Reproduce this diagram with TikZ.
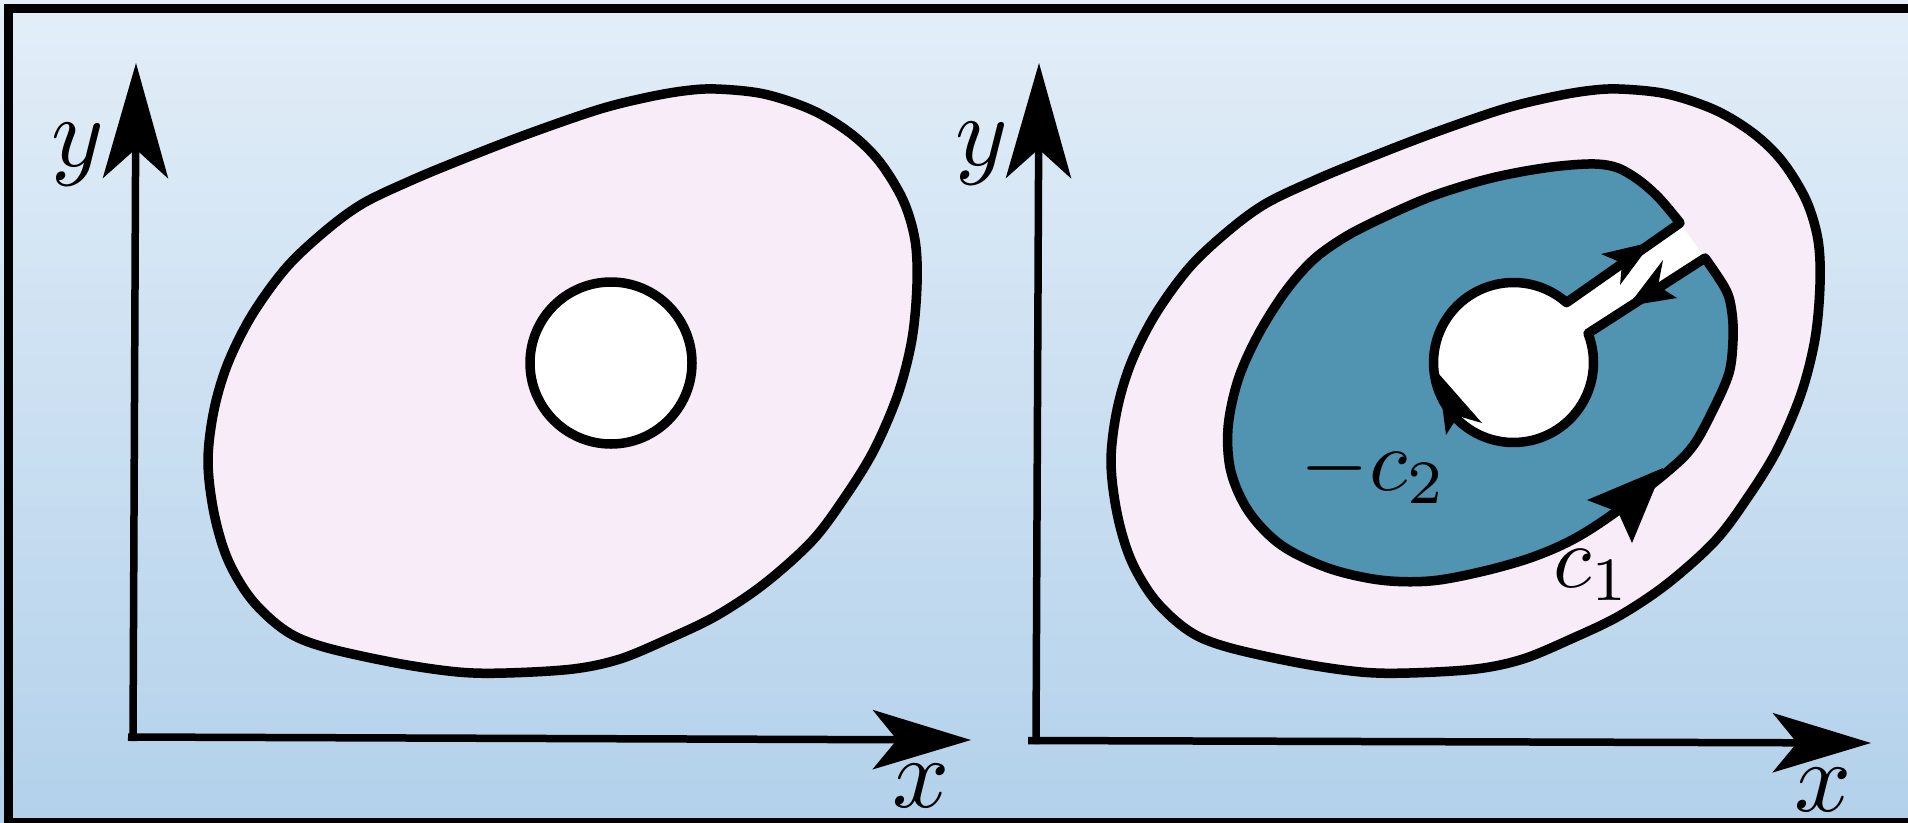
\documentclass[tikz,border=0pt]{standalone}
\usetikzlibrary{arrows.meta}
\definecolor{bgtop}{RGB}{227,238,248}
\definecolor{bgbot}{RGB}{179,209,235}
\definecolor{pinkfill}{RGB}{248,236,249}
\definecolor{tealfill}{RGB}{81,148,178}
\begin{document}
\begin{tikzpicture}[x=1pt,y=-1pt,
  outline/.style={line width=9.5pt, line join=round},
  axisline/.style={line width=7.5pt},
  yarrow/.style={-{Stealth[length=115pt,width=65pt,inset=29pt]}},
  xarrow/.style={-{Stealth[length=98pt,width=59pt,inset=24pt]}},
  tipfill/.style={fill=black},
  lbl/.style={inner sep=0pt, font=\fontsize{10}{12}\selectfont, scale=10},
  clbl/.style={inner sep=0pt, font=\fontsize{10}{12}\selectfont, scale=8.8},
]
\useasboundingbox (0,0) rectangle (1908,822);
\shade[top color=bgtop, bottom color=bgbot] (0,0) rectangle (1908,822);
\draw[line width=9pt] (8,822.8) -- (8,8) -- (1930,8) -- (1930,822.8) -- cycle;

% outer blobs
\foreach \dx in {0,903} {
  \filldraw[outline, fill=pinkfill, xshift=\dx pt] plot[smooth cycle, tension=0.55] coordinates {
    (716,89) (764,94) (812,110) (850,133) (879,161) (903,200) (915,240) (917,284)
    (912,339) (898,394) (874,450) (845,497) (812,541) (764,584) (716,616) (668,639)
    (620,659) (573,669) (506,673) (458,672) (396,663) (324,647) (286,631) (252,600)
    (228,560) (214,513) (208,461) (214,410) (228,363) (252,315) (286,268) (324,232)
    (362,204) (410,181) (458,161) (525,135) (597,110) (644,98) (683,91)};
}

% left hole
\coordinate (hL) at (611,363);
\filldraw[outline, fill=white] (hL) circle[radius=81];

% right: inner region with keyhole
\coordinate (A) at (1680,223);
\coordinate (B) at (1705,258);
\coordinate (C) at (1566.5,302.6);
\coordinate (D) at (1588,333.4);
\fill[white] plot[smooth, tension=0.55] coordinates {
    (A) (1660,199) (1640,181) (1618,168) (1595,164) (1560,166) (1520,172) (1480,181)
    (1430,197) (1382,218) (1345,237) (1313,260) (1285,292) (1258,335) (1238,380)
    (1228,428) (1231,472) (1249,512) (1281,545) (1328,568) (1380,580) (1430,581)
    (1480,572) (1530,558) (1572,540) (1613,514) (1667,472) (1693,446) (1713,410)
    (1729,373) (1733,340) (1732,313) (1726,290) (B)} -- cycle;
\filldraw[outline, fill=tealfill] plot[smooth, tension=0.55] coordinates {
    (A) (1660,199) (1640,181) (1618,168) (1595,164) (1560,166) (1520,172) (1480,181)
    (1430,197) (1382,218) (1345,237) (1313,260) (1285,292) (1258,335) (1238,380)
    (1228,428) (1231,472) (1249,512) (1281,545) (1328,568) (1380,580) (1430,581)
    (1480,572) (1530,558) (1572,540) (1613,514) (1667,472) (1693,446) (1713,410)
    (1729,373) (1733,340) (1732,313) (1726,290) (B)}
  -- (D)
  -- plot[domain=-21.3:311.5, samples=90] ({1513.5+80*cos(\x)},{362.5+80*sin(\x)})
  -- (C) -- cycle;

% orientation arrowheads
\fill[tipfill] (1663,468) -- (1587,500) -- (1618,512) -- (1632,543) -- cycle;
\fill[tipfill] (1438,373) -- (1446,435) -- (1458,416) -- (1482,423) -- cycle;
\fill[tipfill] (1652,242) -- (1601,254) -- (1622,263) -- (1620,285) -- cycle;
\fill[tipfill] (1628,306) -- (1663,260) -- (1658,286) -- (1677,298) -- cycle;

% axes
\coordinate (oLv) at (133,741);
\coordinate (oLh) at (128,737);
\coordinate (tLy) at (136,63);
\coordinate (tLx) at (971,740);
\coordinate (oRv) at (1036,744);
\coordinate (oRh) at (1028,740.5);
\coordinate (tRy) at (1039,63);
\coordinate (tRx) at (1871,743);
\draw[axisline, yarrow] (oLv) -- (tLy);
\draw[axisline, xarrow] (oLh) -- (tLx);
\draw[axisline, yarrow] (oRv) -- (tRy);
\draw[axisline, xarrow] (oRh) -- (tRx);

% labels
\node[lbl] (ylL) at (78,155) {$y$};
\node[lbl] (xlL) at (921,786) {$x$};
\node[lbl] (ylR) at (982,154) {$y$};
\node[lbl] (xlR) at (1823,790) {$x$};
\node[clbl, anchor=base west] (c2l) at (1299,490) {$-c_2$};
\node[clbl, anchor=base west] (c1l) at (1552,587) {$c_1$};
\end{tikzpicture}
\end{document}
